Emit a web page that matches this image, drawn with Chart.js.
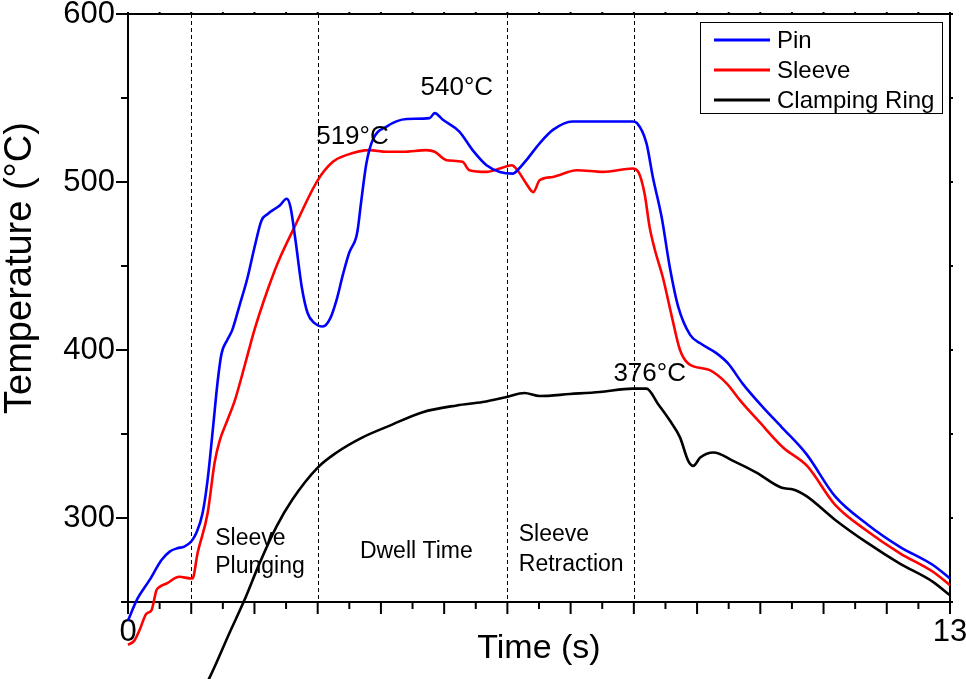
<!DOCTYPE html>
<html><head><meta charset="utf-8">
<script src="https://cdn.jsdelivr.net/npm/chart.js@4"></script>
<style>html,body{margin:0;padding:0;background:#fff}#wrap{width:966px;height:679px}</style>
</head><body><div id="wrap"><canvas id="c" width="966" height="679"></canvas></div>
<script>
const seriesNames = ['Pin', 'Sleeve', 'Clamping Ring'];
const pinTime = [0,0.15,0.34,0.53,0.66,0.78,0.89,1.0,1.08,1.18,1.26,1.34,1.42,1.48,1.57,1.65,1.76,1.89,2.0,2.11,2.21,2.4,2.51,2.57,2.65,2.75,2.84,2.95,3.08,3.2,3.3,3.4,3.5,3.6,3.63,3.69,3.77,3.87,4.09,4.41,4.77,4.85,4.98,5.24,5.45,5.67,5.88,6.09,6.16,6.3,6.51,6.72,7.03,7.5,7.98,8.05,8.2,8.3,8.44,8.57,8.7,8.89,9.05,9.31,9.49,9.72,10.04,10.34,10.73,11.18,11.7,12.2,12.73,13];
const pinTemp = [239,252,263,275,280,282,283,286,291,303,323,352,382,398,406,412,426,443,461,477,481,486,490,485,465,437,422,416,414,419,430,445,458,466,471,489,511,525,533,537.5,538,541,537,530,519,510,506,505,507,513,523,531,536,536,536,535,523,503,479,449,426,409,404,398,392,380,366,354,338,313,296,283,272,264];
const sleeveTime = [0,0.1,0.18,0.29,0.37,0.45,0.5,0.61,0.81,1.0,1.02,1.1,1.26,1.37,1.45,1.57,1.69,1.84,2.0,2.21,2.37,2.63,3.0,3.24,3.45,3.82,4.09,4.35,4.72,4.85,5.04,5.29,5.4,5.67,5.88,6.07,6.16,6.3,6.41,6.51,6.72,7.1,7.51,7.98,8.07,8.17,8.25,8.33,8.46,8.6,8.73,8.86,9.2,9.47,9.68,9.99,10.36,10.74,11.18,11.7,12.21,12.73,13];
const sleeveTemp = [224.5,227,233,243,245,257,259,261,265,264,264,279,303,333,346,358,370,390,412,436,452,473,501,512,516,519,518,518,519,518,513,512,507,506,508,510,507,499,494,501,503,507,506,508,506,493,473,460,443,420,400,392,388,380,370,357,342,331,308,292,279,268,260];
const ringTime = [1.2,1.29,1.61,1.84,2.08,2.35,2.6,3.0,3.3,3.71,4.14,4.66,5.2,5.61,5.99,6.27,6.51,6.99,7.46,7.98,8.2,8.38,8.57,8.73,8.86,8.94,9.05,9.26,9.57,9.94,10.34,10.52,10.73,11.18,11.7,12.2,12.73,13];
const ringTemp = [199,205,232,251,273,295,311,330,339,348,355,363,367,369,372,374.4,372.6,373.8,375,377,377,368,358,348,334,331,336,339,334,327,318,317,313,299,285,273,262,254];
const phaseBoundaries = [1, 3, 6, 8];
const xTickLabels = [0, 13];
const yTickLabels = [300, 400, 500, 600];
const peakLabels = ['540°C', '519°C', '376°C'];
const phaseLabels = [['Sleeve','Plunging'], ['Dwell Time'], ['Sleeve','Retraction']];

const FONT = "'Liberation Sans', Arial, sans-serif";
const toXY = (xs, ys) => xs.map((x, i) => ({x, y: ys[i]}));

const decor = {
  id: 'decor',
  beforeDatasetsDraw(chart) {
    const {ctx, chartArea: a, scales: {x, y}} = chart;
    ctx.save();
    ctx.strokeStyle = '#000'; ctx.lineWidth = 1; ctx.setLineDash([4, 3]);
    phaseBoundaries.forEach(v => {
      const px = Math.round(x.getPixelForValue(v)) + 0.5;
      ctx.beginPath(); ctx.moveTo(px, a.top); ctx.lineTo(px, a.bottom); ctx.stroke();
    });
    ctx.setLineDash([]);
    ctx.lineWidth = 2;
    ctx.strokeRect(a.left, a.top, a.right - a.left, a.bottom - a.top);
    for (let v = 0; v <= 13.0001; v += 0.5) {
      const px = x.getPixelForValue(v);
      const major = Math.abs(v - Math.round(v)) < 1e-6;
      ctx.beginPath(); ctx.moveTo(px, a.bottom); ctx.lineTo(px, a.bottom + (major ? 12 : 7)); ctx.stroke();
      ctx.beginPath(); ctx.moveTo(px, a.top); ctx.lineTo(px, a.top - 2); ctx.stroke();
    }
    for (let v = 250; v <= 600; v += 50) {
      const py = y.getPixelForValue(v);
      const major = v % 100 === 0;
      ctx.beginPath(); ctx.moveTo(a.left, py); ctx.lineTo(a.left - (major ? 12 : 7), py); ctx.stroke();
      ctx.beginPath(); ctx.moveTo(a.right, py); ctx.lineTo(a.right + 3, py); ctx.stroke();
    }
    ctx.restore();
  },
  afterDatasetsDraw(chart) {
    const {ctx, scales: {x, y}} = chart;
    ctx.save();
    ctx.fillStyle = '#000';
    ctx.textBaseline = 'middle';
    ctx.font = '26px ' + FONT; ctx.textAlign = 'center';
    const peakPos = [[5.20, 556], [3.55, 527], [8.25, 386]];
    peakLabels.forEach((t, i) => ctx.fillText(t, x.getPixelForValue(peakPos[i][0]), y.getPixelForValue(peakPos[i][1])));
    ctx.font = '23px ' + FONT;
    ctx.textAlign = 'left';
    ctx.fillText(phaseLabels[0][0], x.getPixelForValue(1.38), y.getPixelForValue(288));
    ctx.fillText(phaseLabels[0][1], x.getPixelForValue(1.38), y.getPixelForValue(271));
    ctx.textAlign = 'center';
    ctx.fillText(phaseLabels[1][0], x.getPixelForValue(4.56), y.getPixelForValue(280));
    ctx.textAlign = 'left';
    ctx.fillText(phaseLabels[2][0], x.getPixelForValue(6.18), y.getPixelForValue(290));
    ctx.fillText(phaseLabels[2][1], x.getPixelForValue(6.18), y.getPixelForValue(272));
    ctx.save();
    ctx.translate(21, 268); ctx.rotate(-Math.PI / 2);
    ctx.textAlign = 'center'; ctx.font = '38px ' + FONT;
    ctx.fillText('Temperature (°C)', 0, 0);
    ctx.restore();
    ctx.lineWidth = 1; ctx.strokeStyle = '#000';
    ctx.strokeRect(700.5, 22.5, 242, 91);
    ctx.font = '24px ' + FONT; ctx.textAlign = 'left';
    chart.data.datasets.forEach((ds, i) => {
      const cy = 40 + i * 30;
      ctx.strokeStyle = ds.borderColor; ctx.lineWidth = 3;
      ctx.beginPath(); ctx.moveTo(714, cy); ctx.lineTo(770, cy); ctx.stroke();
      ctx.fillText(ds.label, 777, cy + 1);
    });
    ctx.restore();
  }
};

const colors = ['#0000FF', '#FF0000', '#000000'];
new Chart(document.getElementById('c'), {
  type: 'line',
  data: {
    datasets: [
      {label: seriesNames[0], data: toXY(pinTime, pinTemp), borderColor: colors[0]},
      {label: seriesNames[1], data: toXY(sleeveTime, sleeveTemp), borderColor: colors[1]},
      {label: seriesNames[2], data: toXY(ringTime, ringTemp), borderColor: colors[2]}
    ].map(d => Object.assign(d, {borderWidth: 2.6, pointRadius: 0, fill: false, cubicInterpolationMode: 'monotone', clip: false}))
  },
  options: {
    responsive: false, animation: false, devicePixelRatio: 1,
    layout: {padding: {left: 0, right: 16, top: 14, bottom: 0}},
    plugins: {legend: {display: false}, tooltip: {enabled: false}},
    scales: {
      x: {
        type: 'linear', min: 0, max: 13,
        afterFit(s) { s.height = 77; s.paddingLeft = 0; s.paddingRight = 0; },
        grid: {display: true, drawOnChartArea: false, drawTicks: true, tickLength: 12, tickColor: 'rgba(0,0,0,0)'},
        border: {display: false},
        ticks: {stepSize: 0.5, autoSkip: false, maxRotation: 0, padding: 0, color: '#000', font: {family: FONT, size: 31},
          callback: v => xTickLabels.includes(v) ? String(v) : ''},
        title: {display: true, text: 'Time (s)', color: '#000', font: {family: FONT, size: 34}, padding: {top: 10, bottom: 10}}
      },
      y: {
        type: 'linear', min: 250, max: 600,
        afterFit(s) { s.width = 128; s.paddingTop = 0; s.paddingBottom = 0; },
        grid: {display: true, drawOnChartArea: false, drawTicks: true, tickLength: 12, tickColor: 'rgba(0,0,0,0)'},
        border: {display: false},
        ticks: {stepSize: 50, padding: 1, color: '#000', font: {family: FONT, size: 31},
          callback: v => yTickLabels.includes(v) ? String(v) : ''}
      }
    }
  },
  plugins: [decor]
});
</script></body></html>
